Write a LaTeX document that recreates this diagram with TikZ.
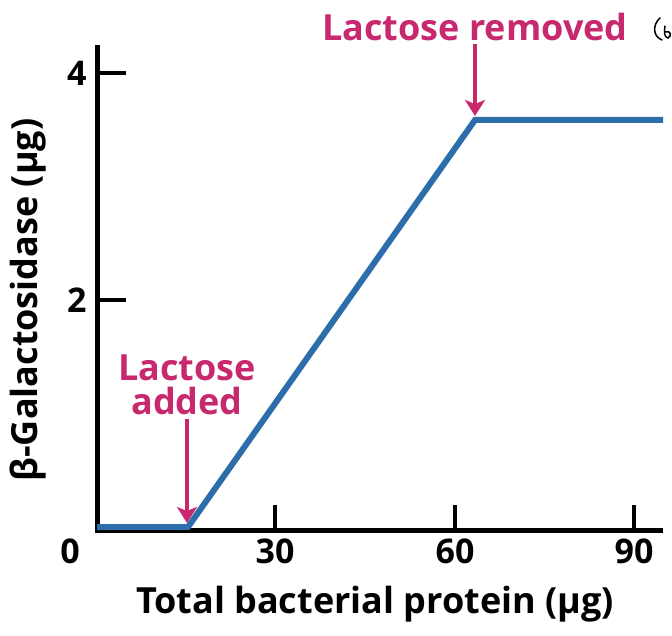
\documentclass[tikz,border=0pt]{standalone}
\usepackage{fontspec}
\setmainfont{Open Sans}
\usetikzlibrary{arrows.meta}
\definecolor{pinkc}{RGB}{200,40,110}
\definecolor{bluec}{RGB}{45,110,170}
\begin{document}
\begin{tikzpicture}[x=1pt,y=-1pt,
  lbl/.style={font=\bfseries\fontsize{34}{40}\selectfont},
  xlbl/.style={font=\bfseries\fontsize{36}{42}\selectfont},
  plbl/.style={font=\bfseries\fontsize{36}{40}\selectfont,text=pinkc,align=center},
  arr/.style={pinkc,line width=4pt,-{Stealth[length=16pt,width=20pt,inset=4pt]}},
  ax/.style={line width=5pt},
  tick/.style={line width=4pt}]
\useasboundingbox (0,0) rectangle (672,636);
\coordinate (O) at (97,530);
\coordinate (ytop) at (97,45);
\coordinate (xend) at (663,530);
\draw[ax] (ytop) -- (O) -- (xend);
\foreach \y/\t in {73/4,300/2}{
  \draw[tick] (97,\y) -- (126,\y);
  \node[lbl,anchor=east] (yl\t) at (90,\y) {\t};}
\node[lbl] (y0) at (70,551) {0};
\foreach \x/\t in {275/30,455/60,634/90}{
  \draw[tick] (\x,530) -- (\x,505);
  \node[lbl] (xl\t) at (\x,551) {\t};}
\node[xlbl] (xlab) at (375,604) {Total bacterial protein (μg)};
\node[xlbl,rotate=90] (ylab) at (28,300) {β-Galactosidase (μg)};
\coordinate (a) at (97,527);
\coordinate (b) at (188,527);
\coordinate (c) at (475,120);
\coordinate (d) at (663,120);
\draw[bluec,line width=6pt,line join=miter] (a) -- (b) -- (c) -- (d);
\node[plbl] (added) at (187,385) {Lactose\\[-6pt]added};
\node[plbl] (removed) at (475,27) {Lactose removed};
\draw[arr] (added.south) ++(0,0) coordinate (as) (as) -- (187,523);
\draw[arr] (removed.south) ++(0,0) coordinate (rs) (rs) -- (475,116);
\draw[line width=1.5pt,line cap=round] (660,18) .. controls (653,24) and (652,36) .. (662,40)
  (665,26) .. controls (664,32) and (664,37) .. (668,38) .. controls (672,36) and (671,30) .. (665,32);
\end{tikzpicture}
\end{document}
